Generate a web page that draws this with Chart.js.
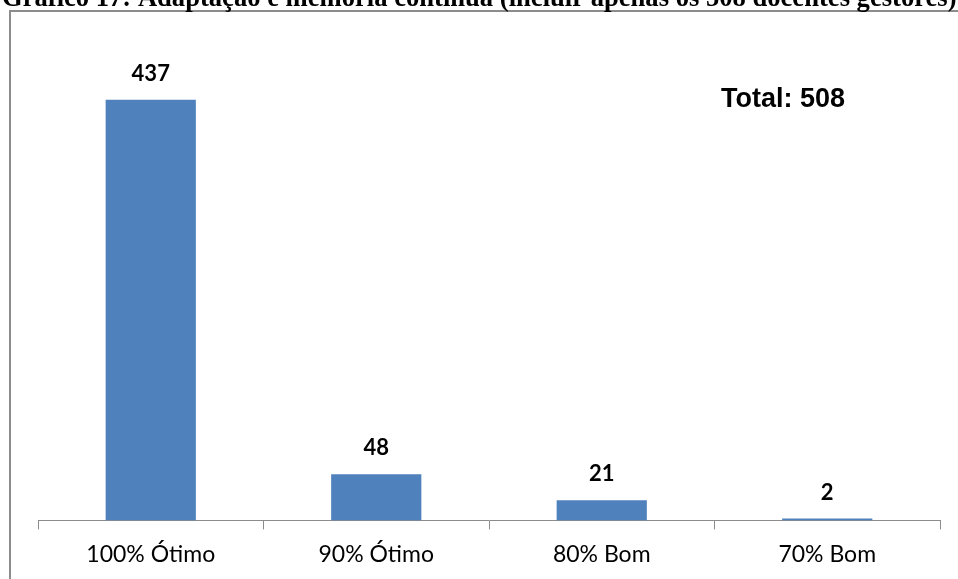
<!DOCTYPE html>
<html>
<head>
<meta charset="utf-8">
<script src="https://cdn.jsdelivr.net/npm/chart.js@4.4.0/dist/chart.umd.min.js"></script>
<style>
  html, body { margin: 0; padding: 0; background: #ffffff; }
  #wrap { width: 958px; height: 579px; position: relative; }
</style>
</head>
<body>
<div id="wrap"><canvas id="grafico" width="958" height="579"></canvas></div>
<script>
const categories = ['100% Ótimo', '90% Ótimo', '80% Bom', '70% Bom'];
const values = [437, 48, 21, 2];
const totalLabel = 'Total: 508';
const titleText = 'Gráfico 17: Adaptação e memória contínua (incluir apenas os 508 docentes gestores)';

// frame + cropped title + total text
const framePlugin = {
  id: 'frame',
  beforeDraw(chart) {
    const ctx = chart.ctx;
    ctx.save();
    ctx.fillStyle = '#ffffff';
    ctx.fillRect(0, 0, chart.width, chart.height);
    ctx.strokeStyle = '#8c8c8c';
    ctx.lineWidth = 2;
    ctx.strokeRect(10, 11, 1200, 1200);
    ctx.fillStyle = '#000000';
    ctx.font = 'bold 26.6px "Liberation Serif", "Times New Roman", serif';
    ctx.textAlign = 'left';
    ctx.textBaseline = 'alphabetic';
    ctx.fillText(titleText, 2, 6);
    ctx.restore();
  },
  afterDraw(chart) {
    const ctx = chart.ctx;
    ctx.save();
    ctx.fillStyle = '#000000';
    ctx.font = 'bold 27px "Liberation Sans", Arial, sans-serif';
    ctx.textAlign = 'left';
    ctx.textBaseline = 'middle';
    ctx.fillText(totalLabel, 721, 100);
    ctx.restore();
  }
};

// value labels above bars
const valueLabels = {
  id: 'valueLabels',
  afterDatasetsDraw(chart) {
    const ctx = chart.ctx;
    const meta = chart.getDatasetMeta(0);
    ctx.save();
    ctx.fillStyle = '#000000';
    ctx.font = 'bold 22px Lato, "Open Sans", sans-serif';
    ctx.textAlign = 'center';
    ctx.textBaseline = 'middle';
    meta.data.forEach((bar, i) => {
      ctx.fillText(String(values[i]), bar.x, bar.y - 26);
    });
    ctx.restore();
  }
};

new Chart(document.getElementById('grafico'), {
  type: 'bar',
  data: {
    labels: categories,
    datasets: [{
      data: values,
      backgroundColor: '#4F81BD',
      borderWidth: 0,
      categoryPercentage: 1,
      barPercentage: 0.4
    }]
  },
  options: {
    responsive: false,
    animation: false,
    layout: { padding: { left: 38, right: 18, top: 39, bottom: 0 } },
    plugins: {
      legend: { display: false },
      tooltip: { enabled: false }
    },
    scales: {
      x: {
        grid: {
          offset: true,
          drawOnChartArea: false,
          drawTicks: true,
          tickLength: 9,
          color: '#8c8c8c',
          lineWidth: 1
        },
        border: { color: '#8c8c8c', width: 1 },
        ticks: {
          color: '#000000',
          font: { family: 'Lato, "Open Sans", sans-serif', size: 23 },
          padding: 11,
          maxRotation: 0
        }
      },
      y: {
        display: false,
        min: 0,
        max: 500
      }
    }
  },
  plugins: [framePlugin, valueLabels]
});
</script>
</body>
</html>
